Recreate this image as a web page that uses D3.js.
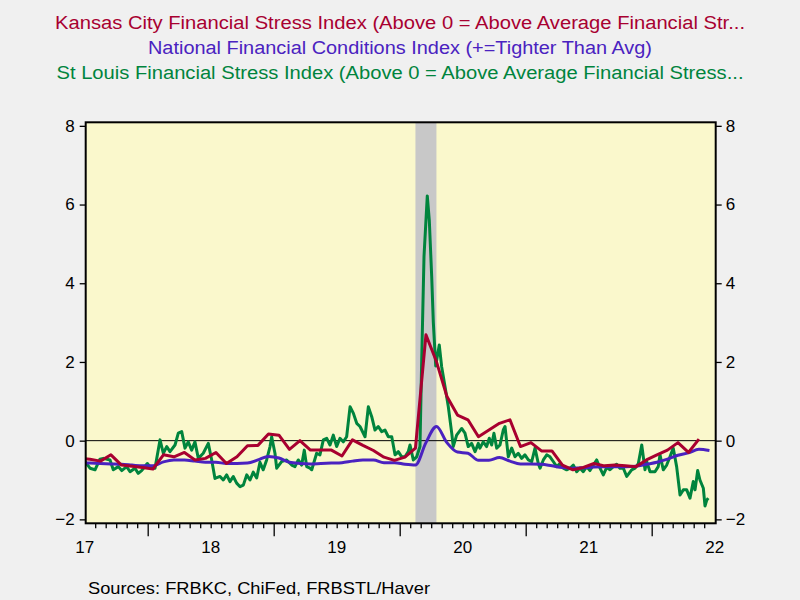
<!DOCTYPE html>
<html><head><meta charset="utf-8">
<script src="https://cdn.jsdelivr.net/npm/d3@7/dist/d3.min.js"></script>
<style>
body{margin:0;background:#F0F0F0;}
svg{display:block;font-family:"Liberation Sans",Arial,sans-serif;}
</style>
</head><body><svg id="c" width="800" height="600"></svg>
<script>
// ---------- data ----------
const titles = [
  "Kansas City Financial Stress Index (Above 0 = Above Average Financial Str...",
  "National Financial Conditions Index (+=Tighter Than Avg)",
  "St Louis Financial Stress Index (Above 0 = Above Average Financial Stress..."
];
const seriesColors = ["#A80030", "#4A22C0", "#00843D"];
const sourceText = "Sources:  FRBKC, ChiFed, FRBSTL/Haver";
const yTicks = [-2, 0, 2, 4, 6, 8];
const xTickLabels = ["17", "18", "19", "20", "21", "22"];
const xLabelYears = [2017.5, 2018.5, 2019.5, 2020.5, 2021.5, 2022.5];
const yearBoundaries = [2018, 2019, 2020, 2021, 2022];
const recession = [2020 + 1.5 / 12, 2020 + 3.5 / 12]; // Feb 2020 - Apr 2020

// monthly series start at June 2017 (month index 0)
const monthlyStart = 2017 + 5 / 12;
const kcValues = [
  -0.45, -0.47, -0.52, -0.36, -0.62, -0.65, -0.68,          // Jun17-Dec17
  -0.72, -0.36, -0.41, -0.30, -0.49, -0.45, -0.30, -0.58, -0.41, -0.13, -0.12, 0.17, // 2018
  0.14, -0.22, 0.00, -0.24, -0.24, -0.24, -0.39, 0.02, -0.12, -0.25, -0.42, -0.50,   // 2019
  -0.42, -0.19, 2.69, 2.01, 1.12, 0.65, 0.53, 0.10, 0.27, 0.44, 0.53, -0.15,         // 2020
  -0.05, -0.26, -0.26, -0.62, -0.74, -0.68, -0.58, -0.64, -0.62, -0.64, -0.66, -0.49,// 2021
  -0.36, -0.24, -0.05, -0.30, 0.04                                                   // 2022
];
const nfciValues = [
  -0.56, -0.57, -0.58, -0.59, -0.60, -0.62, -0.64,          // Jun17-Dec17
  -0.64, -0.54, -0.49, -0.49, -0.52, -0.55, -0.55, -0.58, -0.58, -0.57, -0.49, -0.40, // 2018
  -0.44, -0.55, -0.58, -0.59, -0.58, -0.57, -0.56, -0.52, -0.49, -0.49, -0.56, -0.56, // 2019
  -0.60, -0.62, -0.05, 0.36, -0.05, -0.29, -0.32, -0.50, -0.50, -0.43, -0.52, -0.59,  // 2020
  -0.59, -0.60, -0.64, -0.68, -0.70, -0.69, -0.67, -0.66, -0.66, -0.66, -0.65, -0.60, // 2021
  -0.55, -0.47, -0.37, -0.31, -0.22, -0.25                                           // 2022
];
// St Louis FSI (weekly), dates in decimal years
const stlDates = [
  2017.48, 2017.502, 2017.542, 2017.582, 2017.621, 2017.648, 2017.701, 2017.727, 2017.767, 2017.794,
  2017.833, 2017.860, 2017.899, 2017.925, 2017.952, 2017.997, 2018.018, 2018.058, 2018.098, 2018.124,
  2018.151, 2018.177, 2018.217, 2018.243, 2018.270, 2018.296, 2018.322, 2018.349, 2018.375, 2018.402,
  2018.441, 2018.481, 2018.508, 2018.534, 2018.574, 2018.600, 2018.627, 2018.653, 2018.679, 2018.706,
  2018.733, 2018.759, 2018.786, 2018.812, 2018.838, 2018.865, 2018.891, 2018.917, 2018.944, 2018.971,
  2018.984, 2019.010, 2019.024, 2019.063, 2019.103, 2019.143, 2019.169, 2019.195, 2019.222, 2019.243,
  2019.262, 2019.288, 2019.302, 2019.341, 2019.367, 2019.394, 2019.421, 2019.447, 2019.473, 2019.500,
  2019.526, 2019.552, 2019.579, 2019.606, 2019.632, 2019.659, 2019.685, 2019.725, 2019.751, 2019.778,
  2019.804, 2019.830, 2019.857, 2019.883, 2019.910, 2019.937, 2019.963, 2019.989, 2020.016, 2020.042,
  2020.068, 2020.082, 2020.108, 2020.135, 2020.161, 2020.175, 2020.193, 2020.219, 2020.235, 2020.254,
  2020.267, 2020.286, 2020.314, 2020.333, 2020.360, 2020.386, 2020.413, 2020.425, 2020.452, 2020.492,
  2020.518, 2020.544, 2020.571, 2020.598, 2020.624, 2020.637, 2020.663, 2020.690, 2020.711, 2020.730,
  2020.748, 2020.770, 2020.796, 2020.822, 2020.836, 2020.862, 2020.889, 2020.915, 2020.941, 2020.968,
  2020.994, 2021.021, 2021.048, 2021.074, 2021.100, 2021.114, 2021.140, 2021.167, 2021.193, 2021.219,
  2021.246, 2021.272, 2021.298, 2021.325, 2021.352, 2021.378, 2021.405, 2021.431, 2021.457, 2021.484,
  2021.510, 2021.537, 2021.563, 2021.590, 2021.616, 2021.643, 2021.669, 2021.695, 2021.722, 2021.748,
  2021.775, 2021.802, 2021.841, 2021.868, 2021.894, 2021.921, 2021.947, 2021.960, 2021.987, 2022.026,
  2022.052, 2022.066, 2022.092, 2022.119, 2022.145, 2022.171, 2022.198, 2022.225, 2022.251, 2022.278,
  2022.304, 2022.330, 2022.344, 2022.365, 2022.383, 2022.410, 2022.423, 2022.437, 2022.449
];
const stlValues = [
  -0.55, -0.53, -0.70, -0.74, -0.47, -0.45, -0.49, -0.74, -0.66, -0.76,
  -0.66, -0.79, -0.70, -0.83, -0.76, -0.58, -0.66, -0.70, 0.02, -0.32,
  -0.15, -0.28, -0.11, 0.19, 0.23, -0.19, -0.03, -0.24, -0.03, -0.45,
  -0.32, -0.07, -0.49, -0.96, -0.91, -1.00, -0.87, -1.04, -0.91, -1.08,
  -1.17, -1.13, -0.87, -1.00, -0.80, -0.95, -0.55, -0.74, -0.49, -0.15,
  0.10, -0.32, -0.70, -0.53, -0.49, -0.62, -0.66, -0.49, -0.62, -0.24,
  -0.66, -0.70, -0.74, -0.32, -0.36, 0.02, 0.06, -0.11, 0.14, -0.15,
  0.06, -0.03, 0.10, 0.86, 0.70, 0.44, 0.36, 0.10, 0.86, 0.61,
  0.27, 0.36, 0.23, 0.27, 0.10, 0.10, -0.36, -0.28, -0.41, -0.41,
  -0.28, -0.11, -0.49, -0.41, -0.15, 2.10, 4.68, 6.22, 5.60, 4.17,
  3.00, 1.90, 2.43, 1.88, 1.37, 0.86, 0.19, -0.15, 0.14, 0.31,
  0.19, -0.15, -0.07, -0.28, -0.07, -0.19, -0.03, -0.15, 0.06, -0.11,
  0.19, -0.19, -0.11, 0.27, 0.36, -0.41, -0.19, -0.41, -0.32, -0.45,
  -0.36, -0.49, -0.53, -0.19, -0.58, -0.70, -0.49, -0.36, -0.41, -0.53,
  -0.66, -0.58, -0.70, -0.74, -0.70, -0.62, -0.79, -0.70, -0.79, -0.66,
  -0.76, -0.62, -0.49, -0.70, -0.87, -0.68, -0.74, -0.66, -0.60, -0.70,
  -0.70, -0.91, -0.74, -0.70, -0.58, -0.11, -0.74, -0.53, -0.79, -0.79,
  -0.66, -0.36, -0.74, -0.62, -0.41, -0.19, -0.66, -1.38, -1.25, -1.25,
  -1.46, -1.04, -1.25, -0.76, -1.00, -1.21, -1.66, -1.51, -1.46
];

// ---------- layout ----------
const svg = d3.select("#c");
const plot = {left: 85.7, right: 715.7, top: 122.3, bottom: 523.3};
const x = d3.scaleLinear().domain([2017.508, 2022.508]).range([plot.left, plot.right]);
const y = d3.scaleLinear().domain([-2.1, 8.09]).range([plot.bottom, plot.top]);

svg.append("rect").attr("width", 800).attr("height", 600).attr("fill", "#F0F0F0");

// titles
const titleWidths = [690, 504, 687];
const titleBase = [29, 54, 79];
titles.forEach((t, i) => {
  svg.append("text").attr("x", 400).attr("y", titleBase[i])
    .attr("text-anchor", "middle").attr("font-size", 18)
    .attr("fill", seriesColors[i])
    .attr("textLength", titleWidths[i]).attr("lengthAdjust", "spacingAndGlyphs")
    .text(t);
});

// plot background
svg.append("rect").attr("x", plot.left).attr("y", plot.top)
  .attr("width", plot.right - plot.left).attr("height", plot.bottom - plot.top)
  .attr("fill", "#FAF8CC");

svg.append("defs").append("clipPath").attr("id", "clip").append("rect")
  .attr("x", plot.left).attr("y", plot.top)
  .attr("width", plot.right - plot.left).attr("height", plot.bottom - plot.top);

// recession band
svg.append("rect").attr("x", x(recession[0])).attr("y", plot.top)
  .attr("width", x(recession[1]) - x(recession[0])).attr("height", plot.bottom - plot.top)
  .attr("fill", "#C8C8C8");

// zero line
svg.append("line").attr("x1", plot.left).attr("x2", plot.right)
  .attr("y1", y(0)).attr("y2", y(0)).attr("stroke", "#000").attr("stroke-width", 1);

// series
const monthDate = i => monthlyStart + (i + 0.5) / 12;
const g = svg.append("g").attr("clip-path", "url(#clip)");
const stl = stlDates.map((d, i) => [d, stlValues[i]]);
const nfci = nfciValues.map((v, i) => [monthDate(i), v]);
const kc = kcValues.map((v, i) => [monthDate(i), v]);
const lineLin = d3.line().x(d => x(d[0])).y(d => y(d[1]));
const lineSmooth = d3.line().x(d => x(d[0])).y(d => y(d[1])).curve(d3.curveMonotoneX);
g.append("path").datum(stl).attr("d", lineLin).attr("fill", "none")
  .attr("stroke", seriesColors[2]).attr("stroke-width", 3).attr("stroke-linejoin", "round");
g.append("path").datum(nfci).attr("d", lineSmooth).attr("fill", "none")
  .attr("stroke", seriesColors[1]).attr("stroke-width", 3).attr("stroke-linejoin", "round");
g.append("path").datum(kc).attr("d", lineLin).attr("fill", "none")
  .attr("stroke", seriesColors[0]).attr("stroke-width", 3).attr("stroke-linejoin", "round");

// frame
svg.append("rect").attr("x", plot.left).attr("y", plot.top)
  .attr("width", plot.right - plot.left).attr("height", plot.bottom - plot.top)
  .attr("fill", "none").attr("stroke", "#000").attr("stroke-width", 2);

// y axes
const yAxisL = d3.axisLeft(y).tickValues(yTicks).tickSize(6).tickPadding(5).tickFormat(d3.format("d"));
const yAxisR = d3.axisRight(y).tickValues(yTicks).tickSize(6).tickPadding(4).tickFormat(d3.format("d"));
const gl = svg.append("g").attr("transform", `translate(${plot.left},0)`).call(yAxisL);
const gr = svg.append("g").attr("transform", `translate(${plot.right},0)`).call(yAxisR);
[gl, gr].forEach(a => {
  a.select(".domain").remove();
  a.selectAll("line").attr("stroke", "#000").attr("stroke-width", 1.3);
  a.selectAll("text").attr("font-size", 17).attr("fill", "#000")
    .attr("font-family", "Liberation Sans, Arial, sans-serif");
});

// x axis: monthly minor ticks, yearly major ticks, labels at mid-year
const monthTicks = d3.range(1, 60).map(i => 2017.5 + i / 12).filter(t => !yearBoundaries.some(b => Math.abs(b - t) < 1e-6));
const xMinor = d3.axisBottom(x).tickValues(monthTicks).tickSize(5).tickFormat("");
const xMajor = d3.axisBottom(x).tickValues(yearBoundaries).tickSize(13).tickFormat("");
const gx1 = svg.append("g").attr("transform", `translate(0,${plot.bottom})`).call(xMinor);
const gx2 = svg.append("g").attr("transform", `translate(0,${plot.bottom})`).call(xMajor);
[gx1, gx2].forEach(a => {
  a.select(".domain").remove();
  a.selectAll("line").attr("stroke", "#000").attr("stroke-width", 1.3);
});
svg.append("g").selectAll("text").data(xTickLabels).join("text")
  .attr("x", (d, i) => x(xLabelYears[i])).attr("y", 553)
  .attr("text-anchor", "middle").attr("font-size", 17).attr("fill", "#000")
  .text(d => d);

// source
svg.append("text").attr("x", 88).attr("y", 594).attr("font-size", 17).attr("fill", "#000")
  .attr("textLength", 342).attr("lengthAdjust", "spacingAndGlyphs")
  .text(sourceText);
</script>
</body></html>
